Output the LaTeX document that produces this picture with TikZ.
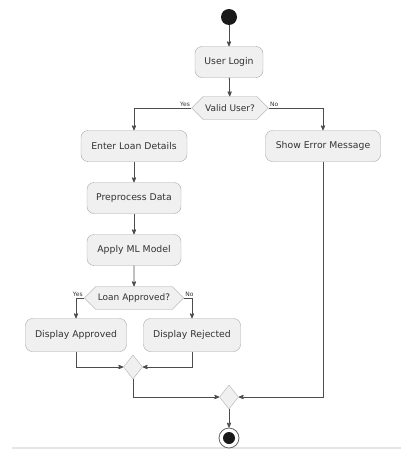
\documentclass[tikz,border=0pt]{standalone}
\usepackage{fontspec}
\setmainfont{DejaVu Sans}
\usetikzlibrary{shapes.geometric,shapes.symbols,positioning,arrows,calc}

\begin{document}
\begin{tikzpicture}[x=1pt,y=-1pt,
    action/.style={rectangle,rounded corners=7pt,draw=black!35,fill=black!6,
		minimum height=31pt,inner xsep=4pt,font=\fontsize{9.3}{11}\selectfont,text=black!80},
    decision/.style={signal,signal to=east and west,draw=black!35,fill=black!6,
		minimum height=23pt,inner xsep=2pt,font=\fontsize{9}{11}\selectfont,text=black!80},
    merge/.style={diamond,draw=black!30,fill=black!6,
		minimum width=19pt,minimum height=24pt,inner sep=0pt},
    flow/.style={->,>=stealth',draw=black!70,thick},
% branch labels
    guard/.style={font=\fontsize{6}{7}\selectfont,text=black!80,inner sep=1pt}
    ]
\useasboundingbox (0,0) rectangle (401,450);
\draw [black!10,line width=2pt] (12,448) -- (401,448);

\node [circle,fill=black!90,minimum size=16pt,inner sep=0pt] (start) at (229,17) {};
\node [action,minimum width=68pt] (login) at (229,62) {User Login};
\node [decision,minimum width=68pt] (valid) at (230,108) {Valid User?};
\node [action,minimum width=106pt] (details) at (134,146) {Enter Loan Details};
\node [action,minimum width=115pt] (error) at (323,146) {Show Error Message};
\node [action,minimum width=94pt] (preprocess) at (134,198) {Preprocess Data};
\node [action,minimum width=94pt] (model) at (134,250) {Apply ML Model};
\node [decision,minimum width=87pt] (approved) at (134,298) {Loan Approved?};
\node [action,minimum width=101pt,minimum height=33pt] (showok) at (76,335) {Display Approved};
\node [action,minimum width=97pt,minimum height=33pt] (showno) at (192,335) {Display Rejected};
\node [merge] (mergeloan) at (133,367) {};
\node [merge] (mergeall) at (229,397) {};
\node [circle,draw=black!60,thick,fill=white,minimum size=20pt,inner sep=0pt] (stop) at (229,438) {};
\node [circle,fill=black!90,minimum size=12pt,inner sep=0pt] at (stop) {};

\draw [flow] (start) -- (login);
\draw [flow] (login) -- (valid);
\draw [flow] (valid.west) node [guard,above left] {Yes} -| (details.north);
\draw [flow] (valid.east) node [guard,above right] {No} -| (error.north);
\draw [flow] (details) -- (preprocess);
\draw [flow] (preprocess) -- (model);
\draw [flow] (model) -- (approved);
\draw [flow] (approved.west) node [guard,above left] {Yes} -| (showok.north);
\draw [flow] (approved.east) node [guard,above right] {No} -| (showno.north);
\draw [flow] (showok.south) |- (mergeloan.west);
\draw [flow] (showno.south) |- (mergeloan.east);
\draw [flow] (mergeloan.south) |- (mergeall.west);
\draw [flow] (error.south) |- (mergeall.east);
\draw [flow] (mergeall) -- (stop);
\end{tikzpicture}
\end{document}
